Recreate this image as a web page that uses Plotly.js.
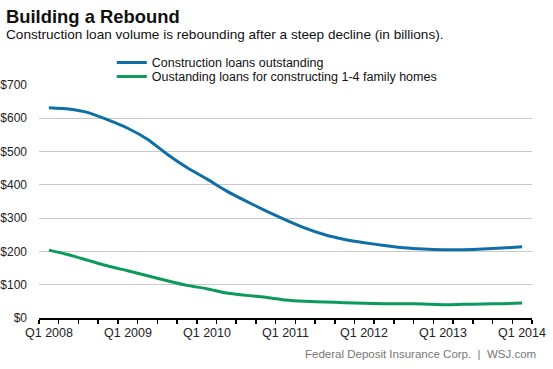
<!DOCTYPE html>
<html>
<head>
<meta charset="utf-8">
<script src="https://cdn.plot.ly/plotly-3.0.1.min.js"></script>
<style>html,body{margin:0;padding:0;background:#fff;}#chart{width:553px;height:369px;}</style>
</head>
<body>
<div id="chart"></div>
<script>
// Quarterly, Q1 2008 .. Q1 2014 (25 quarters)
const quarters = ["Q1 2008","Q2 2008","Q3 2008","Q4 2008","Q1 2009","Q2 2009","Q3 2009","Q4 2009",
  "Q1 2010","Q2 2010","Q3 2010","Q4 2010","Q1 2011","Q2 2011","Q3 2011","Q4 2011",
  "Q1 2012","Q2 2012","Q3 2012","Q4 2012","Q1 2013","Q2 2013","Q3 2013","Q4 2013","Q1 2014"];
const constructionLoans = [632,628,617,595,570,537,492,452,418,382,351,322,295,270,250,236,
  226,218,211,207,205,205,207,210,214];
const familyHomeLoans = [204,190,173,156,142,127,112,98,88,75,68,62,54,50,48,46,
  44,43,43,42,40,41,42,43,45];
const seriesNames = ["Construction loans outstanding","Oustanding loans for constructing 1-4 family homes"];
const xTickLabels = ["Q1 2008","Q1 2009","Q1 2010","Q1 2011","Q1 2012","Q1 2013","Q1 2014"];
const yTickValues = [0,100,200,300,400,500,600,700];
const yTickLabels = ["$0","$100","$200","$300","$400","$500","$600","$700"];

const idx = quarters.map((q,i)=>i);
const xTickVals = xTickLabels.map(l=>quarters.indexOf(l));
// tick marks sit on the quarter boundaries
const boundaries = quarters.map((q,i)=>i-0.5).concat([quarters.length-0.5]);
const FONT = "Liberation Sans, Arial, sans-serif";

const traces = [
  {x: idx, y: constructionLoans, name: seriesNames[0], type:'scatter', mode:'lines', legend:'legend',
   line:{color:'#0e6fa6', width:3, shape:'spline', smoothing:0.5}, hoverinfo:'skip'},
  {x: idx, y: familyHomeLoans, name: seriesNames[1], type:'scatter', mode:'lines', legend:'legend2',
   line:{color:'#0b9a5b', width:3, shape:'spline', smoothing:0.5}, hoverinfo:'skip'}
];

const plotTop = 85, plotBottom = 317.7, plotLeft = 39.3, plotW = 492.4;
const py = p => (plotBottom - p) / (plotBottom - plotTop);
const px = p => (p - plotLeft) / plotW;
const legendFont = {family:FONT, size:12.5, color:'#111'};
const xRange = [-0.5, quarters.length-0.5];

// x-axis labels centred on their quarter, placed through the x scale
const xLabelAnnotations = xTickVals.map((v,k)=>({
  text: xTickLabels[k], xref:'x', yref:'paper', x: v, xanchor:'center', y: py(333), yanchor:'middle',
  showarrow:false, font:{family:FONT, size:12.5, color:'#222'}
}));

const layout = {
  width:553, height:369,
  margin:{l:39.3, r:21.3, t:85, b:51.3, pad:0},
  paper_bgcolor:'#fff', plot_bgcolor:'#fff',
  font:{family:FONT, color:'#222', size:12.5},
  title:{text:'<b>Building a Rebound</b>', font:{family:FONT, size:18.4, color:'#111'},
         x:6/553, xanchor:'left', xref:'container', y:1-10/369, yanchor:'top', yref:'container'},
  showlegend:true,
  legend:{x:px(112), xanchor:'left', y:py(63), yanchor:'middle',
          font:legendFont, bgcolor:'rgba(0,0,0,0)', itemwidth:30},
  legend2:{x:px(112), xanchor:'left', y:py(77), yanchor:'middle',
          font:legendFont, bgcolor:'rgba(0,0,0,0)', itemwidth:30},
  xaxis:{range:xRange, tickmode:'array', tickvals:boundaries, showticklabels:false,
         ticks:'outside', ticklen:4, tickwidth:1.5, tickcolor:'#000',
         showgrid:false, zeroline:false, showline:true, linecolor:'#000', linewidth:2, fixedrange:true},
  xaxis2:{range:xRange, overlaying:'x', anchor:'y', side:'bottom', tickmode:'array',
         tickvals:xTickVals, ticktext:xTickLabels, ticks:'', showgrid:false, zeroline:false, showline:false,
         showticklabels:false, fixedrange:true},
  yaxis:{range:[0,700], tickmode:'array', tickvals:yTickValues, ticktext:yTickLabels,
         showgrid:true, gridcolor:'#c9c9c9', gridwidth:1, zeroline:false, showline:false, ticks:'',
         tickfont:{family:FONT, size:12, color:'#222'}, ticklabelstandoff:11, fixedrange:true},
  annotations:[
    {text:'Construction loan volume is rebounding after a steep decline (in billions).',
     xref:'paper', yref:'paper', x:px(4), xanchor:'left', y:py(35), yanchor:'middle',
     showarrow:false, font:{family:FONT, size:13.6, color:'#111'}},
    {text:'Federal Deposit Insurance Corp.  |  WSJ.com',
     xref:'paper', yref:'paper', x:px(538), xanchor:'right', y:py(354), yanchor:'middle',
     showarrow:false, font:{family:FONT, size:11.5, color:'#777'}}
  ].concat(xLabelAnnotations)
};

Plotly.newPlot('chart', traces, layout, {displayModeBar:false, staticPlot:true});
</script>
</body>
</html>
